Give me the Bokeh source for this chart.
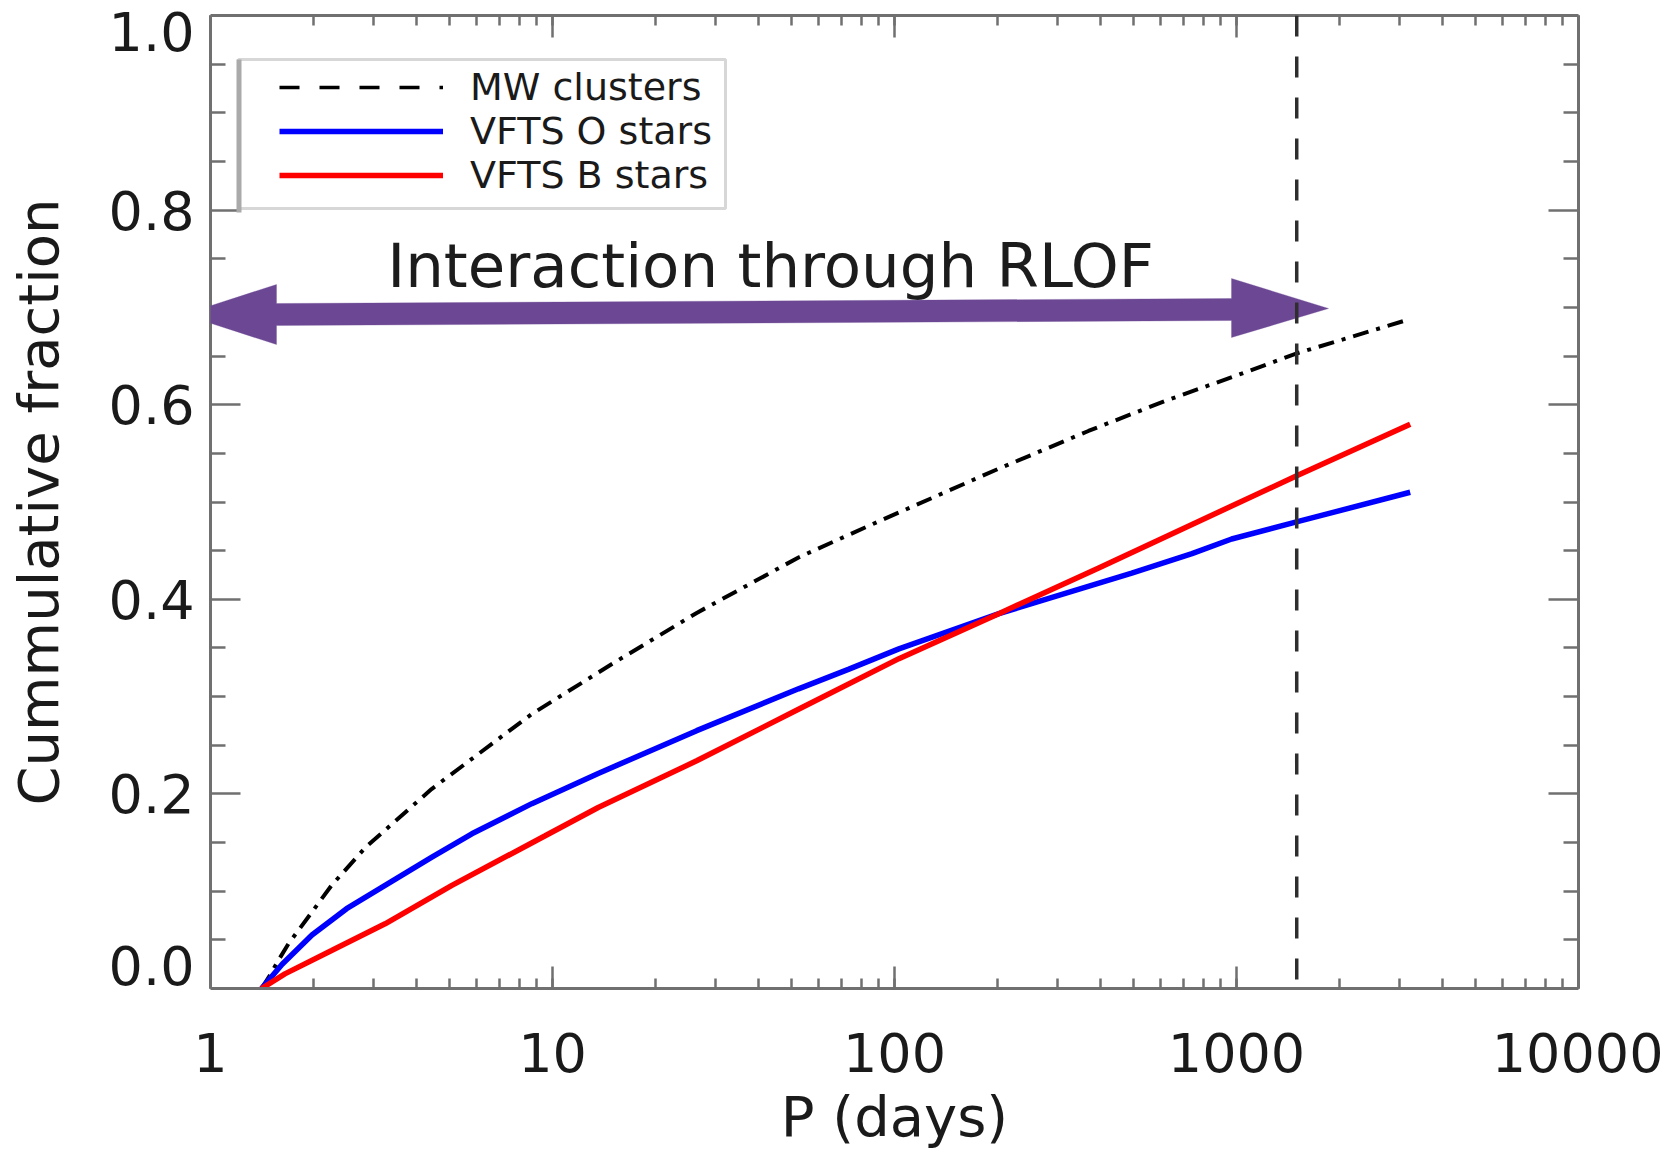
import numpy as np
from bokeh.plotting import figure
from bokeh.models import (LogAxis, LinearAxis, FixedTicker, LogTicker, NumeralTickFormatter,
                          CustomJSTickFormatter, Span, Label, Legend, LegendItem, PolyAnnotation,
                          BoxAnnotation, Range1d)
from bokeh.embed import file_html
from bokeh.resources import INLINE

# ---------------- data ----------------
mw_period = [1.41, 1.50, 1.58, 1.69, 1.81, 2.26, 2.84, 4.43, 8.69, 15.0, 26.4, 52.4, 89.8, 201, 369, 620, 1000, 1508, 3220]
mw_frac = [0.0, 0.015, 0.029, 0.046, 0.060, 0.106, 0.145, 0.205, 0.282, 0.334, 0.386, 0.443, 0.480, 0.534, 0.573, 0.604, 0.630, 0.653, 0.688]

o_period = [1.41, 1.62, 1.98, 2.50, 3.24, 4.44, 5.81, 8.70, 13.6, 26.4, 52.4, 73.3, 103, 201, 494, 741, 968, 1517, 3220]
o_frac = [0.0, 0.025, 0.055, 0.082, 0.106, 0.135, 0.159, 0.190, 0.221, 0.265, 0.308, 0.328, 0.349, 0.385, 0.427, 0.447, 0.462, 0.480, 0.510]

b_period = [1.41, 1.65, 2.26, 3.24, 5.08, 9.52, 13.6, 26.4, 52.4, 103, 201, 394, 774, 1500, 3220]
b_frac = [0.0, 0.015, 0.039, 0.0665, 0.106, 0.157, 0.186, 0.234, 0.287, 0.339, 0.385, 0.432, 0.480, 0.527, 0.580]

series_labels = ["MW clusters", "VFTS O stars", "VFTS B stars"]
y_major_ticks = [0.2, 0.4, 0.6, 0.8]
y_minor_ticks = [0.05, 0.1, 0.15, 0.25, 0.3, 0.35, 0.45, 0.5, 0.55, 0.65, 0.7, 0.75, 0.85, 0.9, 0.95]
y_tick_labels = ["0.0", "0.2", "0.4", "0.6", "0.8", "1.0"]
rlof_limit_days = 1500
annotation_text = "Interaction through RLOF"

# ---------------- layout ----------------
FRAME_W, FRAME_H = 1368, 973
X_DECADES = 4.0


def fx(dx):
    """pixel offset from the frame's left edge -> data x (log axis)"""
    return 10 ** (X_DECADES * dx / FRAME_W)


def fy(dy):
    """pixel offset from the frame's top edge -> data y"""
    return 1.0 - dy / FRAME_H


AXIS_COLOR = "#707070"
TEXT_COLOR = "#1a1a1a"
TICK_FONT = "54px"
TITLE_FONT = "56px"
FONT = "DejaVu Sans"

p = figure(x_axis_type="log", x_range=Range1d(1, 10000), y_range=Range1d(0, 1.0),
           frame_width=FRAME_W, frame_height=FRAME_H,
           min_border_left=210, min_border_top=15, min_border_right=85, min_border_bottom=150,
           output_backend="svg", toolbar_location=None,
           background_fill_color="white", border_fill_color="white")
p.outline_line_color = None
p.grid.visible = False

# ---------------- curves ----------------
r_mw = p.line(mw_period, mw_frac, line_color="black", line_width=4, line_dash="16 8 4 8")
r_o = p.line(o_period, o_frac, line_color="#0000ff", line_width=5.5)
r_b = p.line(b_period, b_frac, line_color="#ff0000", line_width=5.5)
r_mw_leg = p.line([np.nan], [np.nan], line_color="black", line_width=3.5, line_dash="20 20")

# ---------------- axes ----------------
xa = p.xaxis[0]
xa.ticker = LogTicker(num_minor_ticks=10)
xa.formatter = NumeralTickFormatter(format="0")

ya = p.yaxis[0]  # line + ticks only
ya.ticker = FixedTicker(ticks=y_major_ticks, minor_ticks=y_minor_ticks)
ya.formatter = CustomJSTickFormatter(code="return ''")

top = LogAxis(ticker=LogTicker(num_minor_ticks=10), formatter=CustomJSTickFormatter(code="return ''"))
right = LinearAxis(ticker=FixedTicker(ticks=y_major_ticks, minor_ticks=y_minor_ticks),
                   formatter=CustomJSTickFormatter(code="return ''"))
p.add_layout(top, "above")
p.add_layout(right, "right")

for ax, maj, mnr in [(xa, 22, 10), (top, 22, 10), (ya, 30, 15), (right, 30, 15)]:
    ax.axis_line_color = AXIS_COLOR
    ax.axis_line_width = 3
    ax.major_tick_line_color = AXIS_COLOR
    ax.minor_tick_line_color = AXIS_COLOR
    ax.major_tick_line_width = 2.5
    ax.minor_tick_line_width = 2.5
    ax.major_tick_in = maj
    ax.major_tick_out = 0
    ax.minor_tick_in = mnr
    ax.minor_tick_out = 0
    ax.major_label_text_font = FONT
    ax.major_label_text_color = TEXT_COLOR
    ax.axis_label_text_font = FONT
    ax.axis_label_text_color = TEXT_COLOR
    ax.axis_label_text_font_style = "normal"

for ax in (top, right, ya):
    ax.major_label_text_font_size = "2px"
    ax.major_label_standoff = 0

xa.major_label_text_font_size = TICK_FONT
xa.major_label_standoff = 44
xa.axis_label = "P (days)"
xa.axis_label_text_font_size = TITLE_FONT
xa.axis_label_standoff = 9

# label-only y axis: the end labels sit inside the frame as in the reference
y_label_pos = [0.0 + 22.8 / FRAME_H, 0.2, 0.4, 0.6, 0.8, 1.0 - 16.2 / FRAME_H]
ylab = LinearAxis(ticker=FixedTicker(ticks=y_label_pos, minor_ticks=[]),
                  formatter=CustomJSTickFormatter(args=dict(labels=y_tick_labels),
                                                  code="return labels[index]"))
ylab.axis_line_color = None
ylab.major_tick_in = 0
ylab.major_tick_out = 0
ylab.minor_tick_in = 0
ylab.minor_tick_out = 0
ylab.major_label_text_font = FONT
ylab.major_label_text_font_size = TICK_FONT
ylab.major_label_text_color = TEXT_COLOR
ylab.major_label_standoff = 16
ylab.axis_label = "Cummulative fraction"
ylab.axis_label_text_font = FONT
ylab.axis_label_text_font_size = TITLE_FONT
ylab.axis_label_text_font_style = "normal"
ylab.axis_label_text_color = TEXT_COLOR
ylab.axis_label_standoff = 35
p.add_layout(ylab, "left")

# ---------------- RLOF arrow (screen offsets from the frame's bottom-left) ----------------
ARROW_COLOR = "#6c4894"
# (dx, dy) pixel offsets from the frame's top-left corner
arrow_px = [(-27, 299), (66, 269), (66, 288), (1021, 283), (1021, 263), (1118, 293),
            (1021, 322), (1021, 305), (66, 310), (66, 329)]
p.add_layout(PolyAnnotation(xs=[a for a, b in arrow_px], ys=[FRAME_H - b for a, b in arrow_px],
                            xs_units="screen", ys_units="screen", level="overlay",
                            fill_color=ARROW_COLOR, fill_alpha=1.0, line_color=ARROW_COLOR,
                            line_width=1))

p.add_layout(Label(x=fx(560), y=fy(250), text=annotation_text, text_align="center",
                   text_baseline="middle", text_font=FONT, text_font_size="61px",
                   text_color="#1c1c1c"))

# ---------------- RLOF limit ----------------
p.add_layout(Span(location=rlof_limit_days, dimension="height", line_color="#2e2e2e",
                  line_width=3.5, line_dash="21 20", level="overlay"))

# ---------------- legend ----------------
p.add_layout(BoxAnnotation(left=fx(28), right=fx(515), top=fy(44), bottom=fy(193),
                           fill_alpha=0, line_color="#7a7a7a", line_width=3))
p.add_layout(BoxAnnotation(left=fx(26), right=fx(31), top=fy(44), bottom=fy(197),
                           fill_color="#aaaaaa", fill_alpha=1, line_alpha=0))

legend = Legend(items=[LegendItem(label=series_labels[0], renderers=[r_mw_leg]),
                       LegendItem(label=series_labels[1], renderers=[r_o]),
                       LegendItem(label=series_labels[2], renderers=[r_b])],
                location=(59, 781), margin=0, padding=10, spacing=-5,
                glyph_width=164, glyph_height=40, label_height=40, label_standoff=27,
                label_text_font=FONT, label_text_font_size="38px", label_text_color=TEXT_COLOR,
                border_line_alpha=0, background_fill_alpha=0)
p.add_layout(legend)

open("out.html", "w").write(file_html(p, INLINE))
